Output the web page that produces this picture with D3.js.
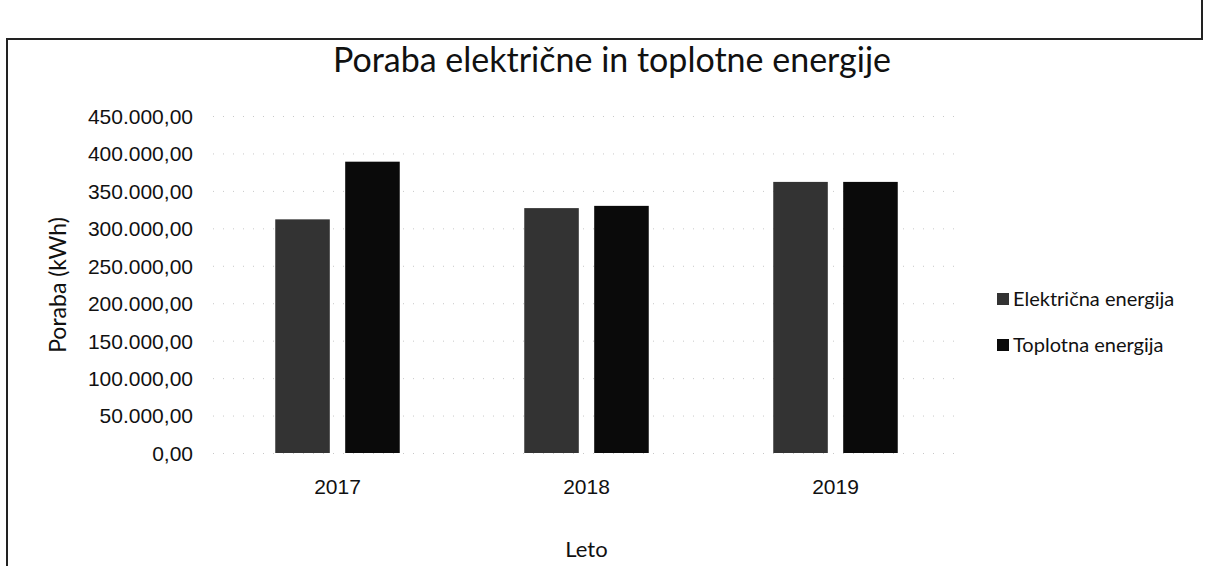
<!DOCTYPE html>
<html>
<head>
<meta charset="utf-8"/>
<title>Poraba električne in toplotne energije</title>
<script src="https://d3js.org/d3.v7.min.js"></script>
<style>
    body { margin: 0; background: #fff; }
    svg { font-family: Lato, "Open Sans", sans-serif; }
    .tick text { font-size: 21px; fill: #111; }
    .grid line { stroke: #c8c8c8; stroke-dasharray: 1,9; }
</style>
</head>
<body>
<div id="chart"></div>
<script>
// data
var years = ["2017", "2018", "2019"];
var seriesNames = ["Električna energija", "Toplotna energija"];
var elektricna = [312000, 327000, 362000];
var toplotna = [389000, 330000, 362000];
var yTicks = [0, 50000, 100000, 150000, 200000, 250000, 300000, 350000, 400000, 450000];
var colors = ["#333333", "#0a0a0a"];

var width = 1206, height = 566;
var plot = {left: 213, right: 960, top: 116, bottom: 453};

var rows = years.map(function(y, i){
    return {year: y, values: [elektricna[i], toplotna[i]]};
});

var svg = d3.select("#chart").append("svg")
    .attr("width", width)
    .attr("height", height);

// scanned page frame
svg.append("path")
    .attr("d", "M7,566 L7,39 L1202,39 L1202,0")
    .attr("fill", "none")
    .attr("stroke", "#222")
    .attr("stroke-width", 2);

var x0 = d3.scaleBand()
    .domain(years)
    .range([plot.left, plot.right])
    .paddingInner(0.5)
    .paddingOuter(0.25);

var x1 = d3.scaleBand()
    .domain(d3.range(seriesNames.length))
    .range([0, x0.bandwidth()])
    .paddingInner(0.22);

var y = d3.scaleLinear()
    .domain([0, 450000])
    .range([plot.bottom, plot.top]);

var fmt = function(v){
    var s = d3.format(",.2f")(v);
    return s.replace(/,/g, "#").replace(".", ",").replace(/#/g, ".");
};

// faint grid
svg.append("g")
    .attr("class", "grid")
    .attr("transform", "translate(" + plot.left + ",0)")
    .call(d3.axisLeft(y).tickValues(yTicks).tickSize(-(plot.right - plot.left)).tickFormat(""))
    .call(function(g){ g.select(".domain").remove(); });

// y axis
svg.append("g")
    .attr("transform", "translate(" + (plot.left - 20) + ",0)")
    .call(d3.axisLeft(y).tickValues(yTicks).tickSize(0).tickPadding(0).tickFormat(fmt))
    .call(function(g){ g.select(".domain").remove(); })
    .selectAll("text")
    .attr("dy", "0.35em");

// x axis
svg.append("g")
    .attr("transform", "translate(0," + plot.bottom + ")")
    .call(d3.axisBottom(x0).tickSize(0).tickPadding(26))
    .call(function(g){ g.select(".domain").remove(); });

// bars
var groups = svg.selectAll(".year")
    .data(rows)
    .enter()
    .append("g")
    .attr("class", "year")
    .attr("transform", function(d){ return "translate(" + x0(d.year) + ",0)"; });

groups.selectAll("rect")
    .data(function(d){ return d.values; })
    .enter()
    .append("rect")
    .attr("x", function(d, i){ return x1(i); })
    .attr("y", function(d){ return y(d); })
    .attr("width", x1.bandwidth())
    .attr("height", function(d){ return y(0) - y(d); })
    .attr("fill", function(d, i){ return colors[i]; });

// title and axis titles
svg.append("text")
    .attr("x", 612)
    .attr("y", 72)
    .attr("text-anchor", "middle")
    .style("font-size", "34px")
    .style("fill", "#111")
    .text("Poraba električne in toplotne energije");

svg.append("text")
    .attr("transform", "translate(66,285) rotate(-90)")
    .attr("text-anchor", "middle")
    .style("font-size", "23px")
    .style("fill", "#111")
    .text("Poraba (kWh)");

svg.append("text")
    .attr("x", x0("2018") + x0.bandwidth() / 2)
    .attr("y", 557)
    .attr("text-anchor", "middle")
    .style("font-size", "22px")
    .style("fill", "#111")
    .text("Leto");

// legend
var legend = svg.selectAll(".legend")
    .data(seriesNames)
    .enter()
    .append("g")
    .attr("class", "legend")
    .attr("transform", function(d, i){ return "translate(997," + (299 + i * 46) + ")"; });

legend.append("rect")
    .attr("x", 0)
    .attr("y", -6)
    .attr("width", 12)
    .attr("height", 12)
    .attr("fill", function(d, i){ return colors[i]; });

legend.append("text")
    .attr("x", 16)
    .attr("dy", "0.35em")
    .style("font-size", "20px")
    .style("fill", "#111")
    .text(function(d){ return d; });
</script>
</body>
</html>
